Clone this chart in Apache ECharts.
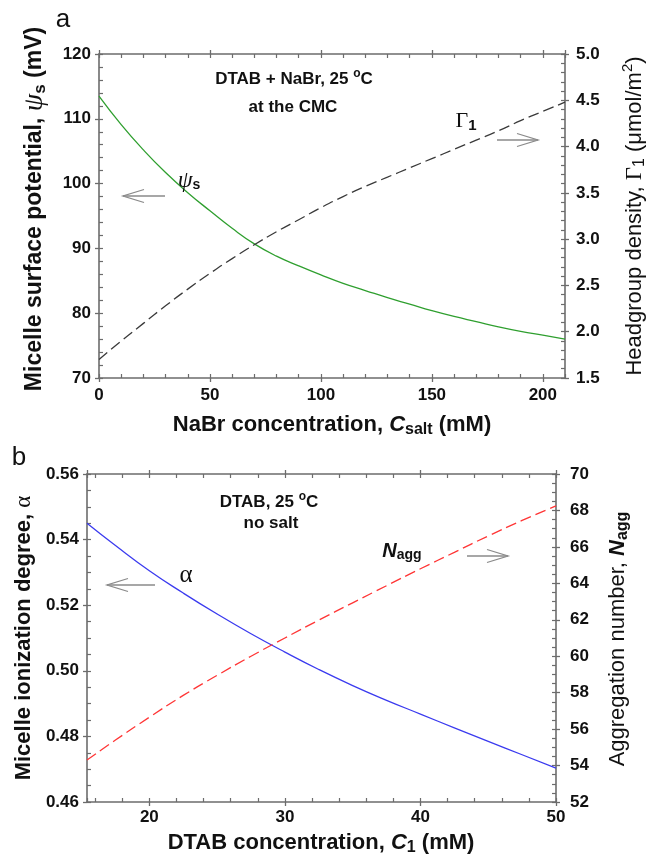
<!DOCTYPE html>
<html><head><meta charset="utf-8">
<script src="https://cdn.jsdelivr.net/npm/echarts@6/dist/echarts.min.js"></script>
<style>html,body{margin:0;padding:0;background:#fff}#c{width:646px;height:857px}</style>
</head><body><div id="c"></div>
<script>
// ---------- data ----------
// panel a : DTAB + NaBr, 25 C, at the CMC
const saltConc = [0,10,20,30,40,50,60,70,80,90,100,110,120,130,140,150,160,170,180,190,200,210];
const psiS     = [113.5,109.1,105.2,101.7,98.6,95.8,93.1,90.7,88.8,87.3,85.9,84.6,83.5,82.4,81.4,80.4,79.5,78.7,77.9,77.2,76.6,76.0];
const gamma1   = [1.70,1.90,2.09,2.28,2.46,2.63,2.79,2.94,3.08,3.21,3.34,3.46,3.57,3.67,3.77,3.87,3.97,4.07,4.17,4.28,4.38,4.48];
// panel b : DTAB, 25 C, no salt
const dtabConc = [15.4,17.5,20,22.5,25,27.5,30,32.5,35,37.5,40,42.5,45,47.5,50];
const alphaDeg = [0.5450,0.5382,0.5305,0.5237,0.5173,0.5113,0.5057,0.5004,0.4955,0.4910,0.4868,0.4826,0.4785,0.4744,0.4703];
const nAgg     = [54.3,55.4,56.65,57.85,58.95,60.0,61.0,61.98,62.93,63.87,64.8,65.7,66.6,67.45,68.25];
// tick labels
const saltTicks  = [0,50,100,150,200];
const psiTicks   = [70,80,90,100,110,120];
const gammaTicks = ['1.5','2.0','2.5','3.0','3.5','4.0','4.5','5.0'];
const dtabTicks  = [20,30,40,50];
const alphaTicks = ['0.46','0.48','0.50','0.52','0.54','0.56'];
const naggTicks  = [52,54,56,58,60,62,64,66,68,70];

// ---------- styling helpers ----------
const AX = '#6c6c6c';
const SANS = '"Liberation Sans", Arial, Helvetica, sans-serif';
const SERIF = '"Liberation Serif", "Times New Roman", serif';

function axisPair(o) {
  const base = {type:'value', gridIndex:o.grid, position:o.position, min:o.min, max:o.max,
                splitLine:{show:false}, animation:false};
  const major = Object.assign({}, base, {
    axisLine:{show:true, onZero:false, lineStyle:{color:AX, width:1.6}},
    axisTick:{show:true, inside:false, length:4, lineStyle:{color:AX, width:1.3}},
    axisLabel: o.fmt ? {show:true, margin:o.margin, color:'#111', fontSize:17, fontWeight:'bold',
                        fontFamily:SANS, formatter:o.fmt, showMinLabel:o.showMin, showMaxLabel:o.showMax}
                     : {show:false}
  });
  const minor = Object.assign({}, base, {
    axisLine:{show:false, onZero:false},
    axisTick:{show:true, inside:true, length:4, lineStyle:{color:AX, width:1.2}},
    axisLabel:{show:false}
  });
  if (o.fixStep) {
    major.minInterval = major.maxInterval = o.interval; major.splitNumber = 3;
    minor.minInterval = minor.maxInterval = o.minor; minor.splitNumber = 17;
  } else {
    major.interval = o.interval; minor.interval = o.minor;
  }
  return [major, minor];
}

function richSet(size, weight) {
  const c = '#111';
  return {
    sub:  {fontFamily:SANS, fontWeight:weight, fontSize:Math.round(size*0.72), padding:[Math.round(size*0.46),0,0,0], fill:c},
    subb: {fontFamily:SANS, fontWeight:'bold', fontSize:Math.round(size*0.72), padding:[Math.round(size*0.46),0,0,0], fill:c},
    sup:  {fontFamily:SANS, fontWeight:weight, fontSize:Math.round(size*0.68), padding:[0,0,Math.round(size*0.62),0], fill:c},
    gr:   {fontFamily:SERIF, fontWeight:'normal', fontSize:Math.round(size*1.05), fill:c},
    gri:  {fontFamily:SERIF, fontStyle:'italic', fontWeight:'normal', fontSize:Math.round(size*1.2), fill:c},
    it:   {fontFamily:SANS, fontStyle:'italic', fontWeight:weight, fontSize:size, fill:c},
    itb:  {fontFamily:SANS, fontStyle:'italic', fontWeight:'bold', fontSize:size, fill:c}
  };
}
function label(x, y, text, size, weight, rot, extra) {
  const st = Object.assign({text:text, fontFamily:SANS, fontSize:size, fontWeight:weight, fill:'#111',
            align:'center', verticalAlign:'middle', textAlign:'center', textVerticalAlign:'middle',
            rich:richSet(size, weight)}, extra || {});
  return {type:'text', x:x, y:y, rotation:rot || 0, z:50, style:st};
}
function arrow(x1, x2, y, tipAtLeft) {
  const tip = tipAtLeft ? x1 : x2;
  const back = tipAtLeft ? x1 + 21 : x2 - 21;
  return [
    {type:'polyline', z:50, shape:{points:[[x1,y],[x2,y]]}, style:{stroke:'#8a8a8a', lineWidth:1.3, fill:null}},
    {type:'polyline', z:50, shape:{points:[[back,y-6.5],[tip,y],[back,y+6.5]]}, style:{stroke:'#8a8a8a', lineWidth:1.3, fill:null}}
  ];
}

const num = v => String(v);
const xAxes = [].concat(
  axisPair({grid:0, position:'bottom', min:0, max:210, interval:50, minor:10, fmt:num, margin:9, showMax:false}),
  axisPair({grid:0, position:'top',    min:0, max:210, interval:50, minor:10}),
  axisPair({grid:1, position:'bottom', min:dtabConc[0], max:50, interval:10, minor:2, fixStep:true, fmt:num, margin:7, showMin:false}),
  axisPair({grid:1, position:'top',    min:dtabConc[0], max:50, interval:10, minor:2, fixStep:true})
);
const yAxes = [].concat(
  axisPair({grid:0, position:'left',  min:psiTicks[0], max:psiTicks[psiTicks.length-1], interval:10, minor:2, fmt:num, margin:8}),
  axisPair({grid:0, position:'right', min:+gammaTicks[0], max:+gammaTicks[gammaTicks.length-1], interval:0.5, minor:0.1, fmt:v=>v.toFixed(1), margin:11}),
  axisPair({grid:1, position:'left',  min:+alphaTicks[0], max:+alphaTicks[alphaTicks.length-1], interval:0.02, minor:0.005, fmt:v=>v.toFixed(2), margin:8}),
  axisPair({grid:1, position:'right', min:naggTicks[0], max:naggTicks[naggTicks.length-1], interval:2, minor:0.5, fmt:num, margin:14})
);

function line(xi, yi, xs, ys, color, dash) {
  return {type:'line', xAxisIndex:xi, yAxisIndex:yi, data:xs.map((x,i)=>[x, ys[i]]),
          showSymbol:false, symbol:'none', smooth:0.5, animation:false,
          lineStyle:{color:color, width:1.3, type: dash ? [11,5] : 'solid'}, z:10};
}

const graphics = [].concat(
  // panel letters
  [label(63, 20, 'a', 26, 'normal'), label(19, 458, 'b', 26, 'normal')],
  // axis titles, panel a
  [label(35, 209, 'Micelle surface potential, {gri|ψ}{subb|s} (mV)', 23, 'bold', Math.PI/2),
   label(635, 216, 'Headgroup density, {gr|Γ}{sub|1} (μmol/m{sup|2})', 22, 'normal', Math.PI/2),
   label(332, 425, 'NaBr concentration, {itb|C}{subb|salt} (mM)', 22, 'bold')],
  // axis titles, panel b
  [label(24, 638, 'Micelle ionization degree, {gr|α}', 22, 'bold', Math.PI/2),
   label(618, 639, 'Aggregation number, {itb|N}{subb|agg}', 22, 'normal', Math.PI/2),
   label(321, 843, 'DTAB concentration, {itb|C}{subb|1} (mM)', 22, 'bold')],
  // annotations panel a
  [label(294, 79, 'DTAB + NaBr, 25 {sup|o}C', 17, 'bold'),
   label(293, 107, 'at the CMC', 17, 'bold'),
   label(466, 121, '{gr|Γ}{subb|1}', 21, 'bold'),
   label(189, 181, '{gri|ψ}{subb|s}', 20, 'bold')],
  arrow(123, 165, 196, true),
  arrow(497, 538, 140, false),
  // annotations panel b
  [label(269, 502, 'DTAB, 25 {sup|o}C', 17, 'bold'),
   label(271, 523, 'no salt', 17, 'bold'),
   label(186, 575, '{gr|α}', 24, 'bold'),
   label(402, 551, '{itb|N}{subb|agg}', 20, 'bold')],
  arrow(107, 155, 585, true),
  arrow(467, 508, 556, false)
);

const chart = echarts.init(document.getElementById('c'), null, {renderer:'canvas'});
chart.setOption({
  backgroundColor:'#ffffff',
  animation:false,
  grid:[
    {left:99, top:54, width:466, height:324, containLabel:false, outerBoundsMode:'none'},
    {left:87, top:474, width:469, height:328, containLabel:false, outerBoundsMode:'none'}
  ],
  xAxis:xAxes,
  yAxis:yAxes,
  series:[
    line(0, 0, saltConc, psiS, '#2f9f2f', false),
    line(0, 2, saltConc, gamma1, '#3a3a3a', true),
    line(4, 4, dtabConc, alphaDeg, '#3b3bef', false),
    line(4, 6, dtabConc, nAgg, '#ff3535', true)
  ],
  graphic:{elements:graphics}
});
</script></body></html>
